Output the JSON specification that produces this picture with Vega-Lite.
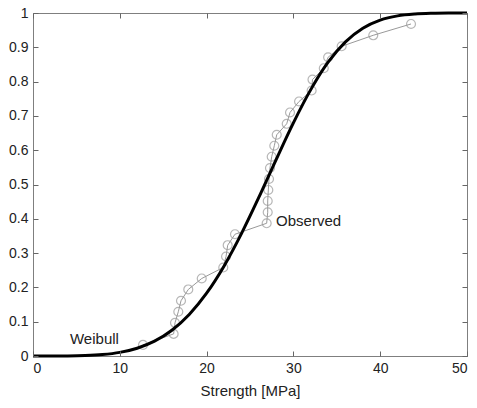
{
  "$schema": "https://vega.github.io/schema/vega-lite/v6.json",
  "width": 434,
  "height": 343,
  "autosize": {"type": "none"},
  "padding": {"left": 33, "top": 13, "right": 10, "bottom": 52},
  "background": "white",
  "config": {
    "view": {"stroke": "#7f7f7f", "strokeWidth": 1},
    "axis": {
      "domainColor": "#7f7f7f",
      "labelColor": "#222222",
      "labelFont": "Liberation Sans",
      "labelFontSize": 14,
      "titleFont": "Liberation Sans",
      "titleFontSize": 15,
      "titleFontWeight": "normal",
      "titleColor": "#222222",
      "grid": false,
      "labelPadding": 5
    }
  },
  "datasets": {
    "weibull": [
      {"x": 0, "F": 0}, {"x": 2, "F": 0.0000}, {"x": 4, "F": 0.0002}, {"x": 6, "F": 0.0012},
      {"x": 8, "F": 0.0041}, {"x": 10, "F": 0.0105}, {"x": 12, "F": 0.0227}, {"x": 14, "F": 0.0433},
      {"x": 16, "F": 0.0752}, {"x": 18, "F": 0.1212}, {"x": 20, "F": 0.1832}, {"x": 22, "F": 0.2620},
      {"x": 24, "F": 0.3561}, {"x": 26, "F": 0.4615}, {"x": 28, "F": 0.5720}, {"x": 30, "F": 0.6798},
      {"x": 32, "F": 0.7766}, {"x": 34, "F": 0.8565}, {"x": 36, "F": 0.9159}, {"x": 38, "F": 0.9557},
      {"x": 40, "F": 0.9793}, {"x": 42, "F": 0.9916}, {"x": 44, "F": 0.9970}, {"x": 46, "F": 0.9991},
      {"x": 48, "F": 0.9998}, {"x": 50, "F": 1.0}
    ],
    "observed": [
      {"s": 12.67, "p": 0.0323}, {"s": 16.2, "p": 0.0645}, {"s": 16.36, "p": 0.0968},
      {"s": 16.74, "p": 0.129}, {"s": 17.05, "p": 0.161}, {"s": 17.89, "p": 0.194},
      {"s": 19.44, "p": 0.226}, {"s": 21.92, "p": 0.258}, {"s": 22.24, "p": 0.290},
      {"s": 22.43, "p": 0.323}, {"s": 23.27, "p": 0.355}, {"s": 26.92, "p": 0.387},
      {"s": 27.04, "p": 0.419}, {"s": 27.04, "p": 0.452}, {"s": 27.11, "p": 0.484},
      {"s": 27.19, "p": 0.516}, {"s": 27.30, "p": 0.548}, {"s": 27.50, "p": 0.581},
      {"s": 27.80, "p": 0.613}, {"s": 28.08, "p": 0.645}, {"s": 29.23, "p": 0.677},
      {"s": 29.61, "p": 0.710}, {"s": 30.65, "p": 0.742}, {"s": 32.1, "p": 0.774},
      {"s": 32.2, "p": 0.806}, {"s": 33.5, "p": 0.839}, {"s": 34.0, "p": 0.871},
      {"s": 35.56, "p": 0.903}, {"s": 39.2, "p": 0.935}, {"s": 43.55, "p": 0.968}
    ],
    "labels": [
      {"tx": 4.26, "ty": 0.0487, "t": "Weibull"},
      {"tx": 28.0, "ty": 0.394, "t": "Observed"}
    ]
  },
  "layer": [
    {
      "data": {"name": "observed"},
      "mark": {"type": "line", "color": "#999999", "strokeWidth": 1},
      "encoding": {
        "x": {"field": "s", "type": "quantitative", "scale": {"domain": [0, 50], "nice": false},
              "axis": {"orient": "bottom", "values": [0, 10, 20, 30, 40, 50], "ticks": false, "title": "Strength [MPa]", "titlePadding": 8}},
        "y": {"field": "p", "type": "quantitative", "scale": {"domain": [0, 1], "nice": false},
              "axis": {"orient": "left", "values": [0, 0.1, 0.2, 0.3, 0.4, 0.5, 0.6, 0.7, 0.8, 0.9, 1], "ticks": false, "title": null,
                       "labelExpr": "datum.value == 0 ? '0' : datum.value == 1 ? '1' : format(datum.value, '.1f')"}},
        "order": {"field": "p", "type": "quantitative"}
      }
    },
    {
      "data": {"name": "observed"},
      "mark": {"type": "point", "shape": "circle", "filled": false, "color": "#999999", "strokeWidth": 1.2, "size": 80},
      "encoding": {
        "x": {"field": "s", "type": "quantitative",
              "axis": {"orient": "bottom", "values": [0, 10, 20, 30, 40, 50], "ticks": true, "labels": false, "title": null, "domain": true, "domainOpacity": 0, "tickSize": 5, "offset": -5, "tickColor": "#666666", "tickWidth": 1, "zindex": 1}},
        "y": {"field": "p", "type": "quantitative",
              "axis": {"orient": "left", "values": [0, 0.1, 0.2, 0.3, 0.4, 0.5, 0.6, 0.7, 0.8, 0.9, 1], "ticks": true, "labels": false, "title": null, "domain": true, "domainOpacity": 0, "tickSize": 5, "offset": -5, "tickColor": "#666666", "tickWidth": 1, "zindex": 1}}
      }
    },
    {
      "data": {"name": "weibull"},
      "mark": {"type": "line", "color": "#000000", "strokeWidth": 3, "interpolate": "monotone"},
      "encoding": {
        "x": {"field": "x", "type": "quantitative",
              "axis": {"orient": "top", "values": [0, 10, 20, 30, 40, 50], "ticks": true, "labels": false, "title": null, "domain": true, "domainOpacity": 0, "tickSize": 5, "offset": -5, "tickColor": "#666666", "tickWidth": 1, "zindex": 1}},
        "y": {"field": "F", "type": "quantitative",
              "axis": {"orient": "right", "values": [0, 0.1, 0.2, 0.3, 0.4, 0.5, 0.6, 0.7, 0.8, 0.9, 1], "ticks": true, "labels": false, "title": null, "domain": true, "domainOpacity": 0, "tickSize": 5, "offset": -5, "tickColor": "#666666", "tickWidth": 1, "zindex": 1}}
      }
    },
    {
      "data": {"name": "labels"},
      "mark": {"type": "text", "align": "left", "baseline": "middle", "font": "Liberation Sans", "fontSize": 15, "color": "#222222"},
      "encoding": {
        "x": {"field": "tx", "type": "quantitative", "axis": null},
        "y": {"field": "ty", "type": "quantitative", "axis": null},
        "text": {"field": "t"}
      }
    }
  ],
  "resolve": {"axis": {"x": "independent", "y": "independent"}}
}
